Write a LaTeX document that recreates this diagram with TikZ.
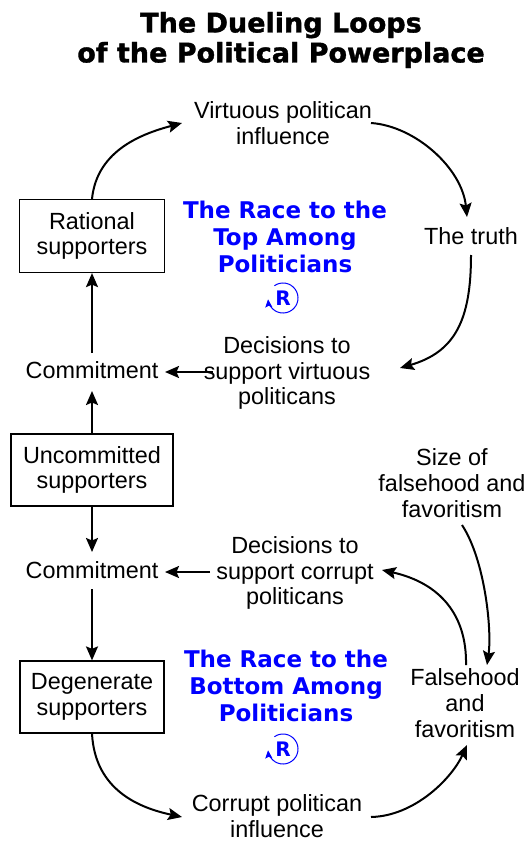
\documentclass[tikz,border=0pt]{standalone}
\usepackage{fontspec}
\setmainfont{Liberation Sans}
\newfontfamily\heavyfont{DejaVu Sans Bold}
\newfontfamily\titlefont{DejaVu Sans Bold}[FakeBold=1.3]
\usetikzlibrary{arrows.meta,calc}

\begin{document}
\begin{tikzpicture}[x=1pt,y=-1pt,
  lbl/.style={align=center,inner sep=0pt,font=\fontsize{23.4}{25.7}\selectfont},
  stockbox/.style={draw,line width=1.2pt,inner sep=0pt,align=center,
    font=\fontsize{23.4}{25.7}\selectfont},
  heading/.style={align=center,inner sep=0pt,font=\titlefont\fontsize{27}{30}\selectfont},
  loopname/.style={align=center,inner sep=0pt,text=blue,
    font=\heavyfont\fontsize{23}{27}\selectfont},
  looptag/.style={inner sep=0pt,text=blue,font=\heavyfont\fontsize{20}{20}\selectfont},
  loopturn/.style={blue,line width=1pt,-{Stealth[length=8pt,width=7pt,inset=1.5pt]}},
  link/.style={line width=2pt,-{Stealth[length=14pt,width=12pt,inset=2.5pt]}}
]
\fill[white] (0,0) rectangle (524,842);
\useasboundingbox (0,0) rectangle (524,842);

% title
\node[heading] (title) at (281,40) {The Dueling Loops\\of the Political Powerplace};

% stocks
\node[stockbox,minimum width=145pt,minimum height=73pt] (rat) at (92,236) {Rational\\supporters};
\node[stockbox,minimum width=162pt,minimum height=72pt] (unc) at (92,470) {Uncommitted\\supporters};
\node[stockbox,minimum width=144pt,minimum height=72pt] (deg) at (92,697) {Degenerate\\supporters};

% variables
\node[lbl] (vir) at (283,123) {Virtuous politican\\influence};
\node[lbl] (truth) at (471,236) {The truth};
\node[lbl] (dv) at (287,373) {Decisions to\\support virtuous\\politicans};
\node[lbl] (com1) at (92,370) {Commitment};
\node[lbl] (com2) at (92,570) {Commitment};
\node[lbl] (dc) at (295,573) {Decisions to\\support corrupt\\politicans};
\node[lbl] (sf) at (452,483) {Size of\\falsehood and\\favoritism};
\node[lbl] (fav) at (465,703) {Falsehood\\and\\favoritism};
\node[lbl] (cpi) at (277,816) {Corrupt politican\\influence};

% loop names and markers
\node[loopname] (toploop) at (285,237) {The Race to the\\Top Among\\Politicians};
\node[loopname] (botloop) at (286,686) {The Race to the\\Bottom Among\\Politicians};
\node[looptag] (rtop) at (283,298) {R};
\node[looptag] (rbot) at (283,749) {R};
\draw[loopturn] ([shift={(125:15pt)}]rtop.center) arc[start angle=125,end angle=-175,radius=15pt];
\draw[loopturn] ([shift={(125:15pt)}]rbot.center) arc[start angle=125,end angle=-175,radius=15pt];

% upper loop
\draw[link] (rat.north) .. controls +(5,-50) and +(-37,10) .. ($(vir.center)+(-101,0)$);
\draw[link] ($(vir.center)+(88,0)$) .. controls +(44,3) and +(-5,-49) .. ($(truth.center)+(-4,-19)$);
\draw[link] ($(truth.center)+(0,19)$) .. controls +(0,65) and +(55,-16) .. ($(dv.center)+(113,-5)$);
\draw[link] ($(dv.center)+(-74,-1)$) -- ($(com1.center)+(73,2)$);
\draw[link] ($(com1.center)+(0,-17)$) -- (rat.south);
\draw[link] (unc.north) -- ($(com1.center)+(0,21)$);

% lower loop
\draw[link] (unc.south) -- ($(com2.center)+(0,-18)$);
\draw[link] ($(dc.center)+(-85,-1)$) -- ($(com2.center)+(73,2)$);
\draw[link] ($(com2.center)+(0,19)$) -- (deg.north);
\draw[link] (deg.south) .. controls +(3,57) and +(-42,-9) .. ($(cpi.center)+(-95,1)$);
\draw[link] ($(cpi.center)+(94,1)$) .. controls +(44,-1) and +(-15,33) .. ($(fav.center)+(2,42)$);
\draw[link] ($(fav.center)+(1,-38)$) .. controls +(1,-50) and +(58,13) .. ($(dc.center)+(87,-3)$);
\draw[link] ($(sf.center)+(10,42)$) .. controls +(23,35) and +(5,-35) .. ($(fav.center)+(22,-38)$);
\end{tikzpicture}
\end{document}
